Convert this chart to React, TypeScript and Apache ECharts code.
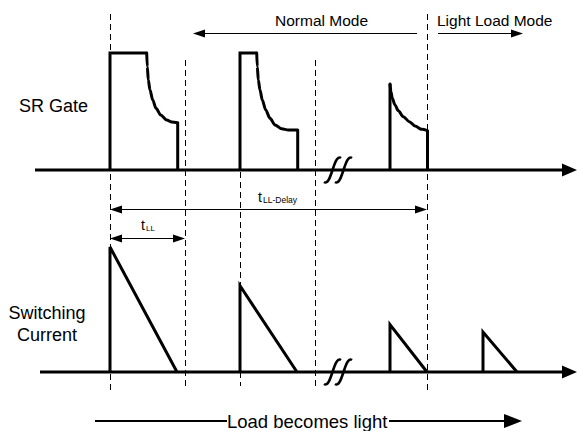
import React, { useEffect, useRef } from "react";
import * as echarts from "echarts";

// ---------- time axis (arbitrary units along the diagram) ----------
const TIME_MIN = 0;
const TIME_MAX = 577;

// ---------- SR Gate waveform (time, normalised amplitude) ----------
const gateRise = [110, 240, 390];
const gateTop = [1, 1, 0.735];
const gateFlatEnd = [146.7, 256.7, 390];
const gateFall = [177.7, 297.7, 427.5];
const gateCurve1 = [
  [146.7, 1], [147.3, 0.883], [148.3, 0.769], [150, 0.684], [152.7, 0.598],
  [156, 0.527], [160.7, 0.47], [166.7, 0.427], [171.7, 0.41], [177.7, 0.404],
];
const gateCurve2 = [
  [256.7, 1], [257.3, 0.883], [258.3, 0.769], [260, 0.684], [262.3, 0.598],
  [265.7, 0.513], [270, 0.442], [275, 0.385], [281.7, 0.353], [288.3, 0.342], [297.7, 0.342],
];
const gateCurve3 = [
  [390, 0.735], [391, 0.669], [392.3, 0.613], [395, 0.556], [398.3, 0.507],
  [403.3, 0.456], [409.3, 0.413], [415, 0.376], [421.7, 0.348], [427.5, 0.336],
];
const gateCurves = [gateCurve1, gateCurve2, gateCurve3];

// ---------- Switching current waveform ----------
const currentRise = [110, 240, 390, 483];
const currentPeak = [1, 0.69, 0.38, 0.32];
const currentEnd = [177, 297, 427, 517];

// ---------- axes / breaks ----------
const gateAxis = [35, 577]; // start, arrow tip
const currentAxis = [40, 577];
const breakTime = 338;

// ---------- annotation data (time, height in figure units) ----------
const markerTimes = [110, 185, 240, 315, 427];
const markerTop = [14, 60, 172, 60, 14];
const markerBottom = [391, 389, 386, 389, 390];

const labelTexts = ["Normal Mode", "Light Load Mode", "SR Gate", "Switching", "Current", "Load becomes light"];

const FONT = "'Liberation Sans', Arial, sans-serif";

type SegSpec = {
  width: number;
  dash?: number[];
  heads: [boolean, boolean];
  headLen: number;
  headW: number;
};

type Seg = { p: number[]; spec: SegSpec };

const thinArrow = (h: [boolean, boolean]): SegSpec => ({ width: 1, heads: h, headLen: 12, headW: 8 });
const axisArrow: SegSpec = { width: 3, heads: [false, true], headLen: 15, headW: 13 };
const dashSpec: SegSpec = { width: 1, dash: [6, 4], heads: [false, false], headLen: 0, headW: 0 };

const crisp = (v: number) => Math.round(v - 0.5) + 0.5;

function segRenderer(segs: Seg[]) {
  return (params: any, api: any) => {
    const s = segs[params.dataIndex].spec;
    const a = api.coord([api.value(0), api.value(1)]);
    const b = api.coord([api.value(2), api.value(3)]);
    if (s.width === 1) {
      if (Math.abs(a[0] - b[0]) < 0.01) { a[0] = crisp(a[0]); b[0] = a[0]; }
      if (Math.abs(a[1] - b[1]) < 0.01) { a[1] = crisp(a[1]); b[1] = a[1]; }
    }
    const dx = b[0] - a[0];
    const dy = b[1] - a[1];
    const L = Math.hypot(dx, dy) || 1;
    const ux = dx / L;
    const uy = dy / L;
    const nx = -uy;
    const ny = ux;
    const children: any[] = [];
    let p1 = [a[0], a[1]];
    let p2 = [b[0], b[1]];
    const head = (tip: number[], dirx: number, diry: number) => {
      const bx = tip[0] - dirx * s.headLen;
      const by = tip[1] - diry * s.headLen;
      return {
        type: "polygon",
        shape: {
          points: [
            [tip[0], tip[1]],
            [bx + (nx * s.headW) / 2, by + (ny * s.headW) / 2],
            [bx - (nx * s.headW) / 2, by - (ny * s.headW) / 2],
          ],
        },
        style: { fill: "#000", stroke: "none" },
      };
    };
    if (s.heads[0]) {
      p1 = [a[0] + ux * (s.headLen - 1), a[1] + uy * (s.headLen - 1)];
      children.push(head(a, -ux, -uy));
    }
    if (s.heads[1]) {
      p2 = [b[0] - ux * (s.headLen - 1), b[1] - uy * (s.headLen - 1)];
      children.push(head(b, ux, uy));
    }
    children.unshift({
      type: "line",
      shape: { x1: p1[0], y1: p1[1], x2: p2[0], y2: p2[1] },
      style: { stroke: "#000", lineWidth: s.width, lineDash: s.dash || null, fill: "none" },
    });
    return { type: "group", children };
  };
}

function breakRenderer(params: any, api: any) {
  const c = api.coord([api.value(0), api.value(1)]);
  const mk = (ox: number) => ({
    type: "bezierCurve",
    shape: {
      x1: c[0] + ox - 8.5, y1: c[1] + 12,
      cpx1: c[0] + ox - 1, cpy1: c[1] + 17,
      cpx2: c[0] + ox + 1, cpy2: c[1] - 17,
      x2: c[0] + ox + 8.5, y2: c[1] - 12,
    },
    style: { stroke: "#000", lineWidth: 2.6, fill: "none" },
  });
  return { type: "group", children: [mk(-5.5), mk(5.5)] };
}

export default function App() {
  const ref = useRef<HTMLDivElement>(null);

  useEffect(() => {
    if (!ref.current) return;
    const chart = echarts.init(ref.current, null, { renderer: "svg" });

    const lineBase = {
      type: "line",
      showSymbol: false,
      symbol: "none",
      clip: false,
      silent: true,
      lineStyle: { color: "#000", width: 3, join: "miter", cap: "butt" },
      itemStyle: { color: "#000" },
      emphasis: { disabled: true },
    };

    const series: any[] = [];

    // SR gate pulses
    gateRise.forEach((t, i) => {
      const outline: number[][] = [[t, 0], [t, gateTop[i]]];
      if (gateFlatEnd[i] > t) outline.push([gateFlatEnd[i], gateTop[i]]);
      series.push({
        ...lineBase,
        xAxisIndex: 0,
        yAxisIndex: 0,
        data: outline,
      });
      series.push({
        ...lineBase,
        xAxisIndex: 0,
        yAxisIndex: 0,
        smooth: 0.3,
        smoothMonotone: "x",
        lineStyle: { ...lineBase.lineStyle, cap: "round", join: "round" },
        data: gateCurves[i],
      });
      const curve = gateCurves[i];
      series.push({
        ...lineBase,
        xAxisIndex: 0,
        yAxisIndex: 0,
        data: [[gateFall[i], curve[curve.length - 1][1]], [gateFall[i], 0]],
      });
    });

    // Switching current triangles
    currentRise.forEach((t, i) => {
      series.push({
        ...lineBase,
        xAxisIndex: 1,
        yAxisIndex: 1,
        data: [[t, 0], [t, currentPeak[i]], [currentEnd[i], 0]],
      });
    });

    // baselines with arrowheads
    const gateAxisSegs: Seg[] = [{ p: [gateAxis[0], 0, gateAxis[1], 0], spec: axisArrow }];
    const currentAxisSegs: Seg[] = [{ p: [currentAxis[0], 0, currentAxis[1], 0], spec: axisArrow }];
    series.push({
      type: "custom", coordinateSystem: "cartesian2d", xAxisIndex: 0, yAxisIndex: 0, clip: false, silent: true,
      data: gateAxisSegs.map((s) => s.p), renderItem: segRenderer(gateAxisSegs),
    });
    series.push({
      type: "custom", coordinateSystem: "cartesian2d", xAxisIndex: 1, yAxisIndex: 1, clip: false, silent: true,
      data: currentAxisSegs.map((s) => s.p), renderItem: segRenderer(currentAxisSegs),
    });
    // break marks on both baselines
    series.push({
      type: "custom", coordinateSystem: "cartesian2d", xAxisIndex: 0, yAxisIndex: 0, clip: false, silent: true,
      data: [[breakTime, 0]], renderItem: breakRenderer,
    });
    series.push({
      type: "custom", coordinateSystem: "cartesian2d", xAxisIndex: 1, yAxisIndex: 1, clip: false, silent: true,
      data: [[breakTime, 0]], renderItem: breakRenderer,
    });

    // annotations on overlay grid
    const annot: Seg[] = [];
    markerTimes.forEach((t, i) => annot.push({ p: [t, markerTop[i], t, markerBottom[i]], spec: dashSpec }));
    annot.push({ p: [110, 209, 427, 209], spec: thinArrow([true, true]) });
    annot.push({ p: [110, 238.5, 185, 238.5], spec: thinArrow([true, true]) });
    annot.push({ p: [417, 33, 193, 33], spec: thinArrow([false, true]) });
    annot.push({ p: [438, 33, 523, 33], spec: thinArrow([false, true]) });
    annot.push({ p: [95, 421, 227, 421], spec: { width: 2, heads: [false, false], headLen: 0, headW: 0 } });
    annot.push({ p: [389, 421, 522, 421], spec: { width: 2, heads: [false, true], headLen: 18, headW: 14 } });
    series.push({
      type: "custom", coordinateSystem: "cartesian2d", xAxisIndex: 2, yAxisIndex: 2, clip: false, silent: true,
      data: annot.map((s) => s.p), renderItem: segRenderer(annot),
    });

    const txt = (text: string, x: number, y: number, size: number, align = "left") => ({
      type: "text",
      x,
      y,
      silent: true,
      style: { text, fontSize: size, fontFamily: FONT, fill: "#000", align, verticalAlign: "middle" },
    });

    const option: any = {
      animation: false,
      backgroundColor: "#fff",
      grid: [
        { left: 0, top: 53, width: 577, height: 117, containLabel: false },
        { left: 0, top: 247, width: 577, height: 125, containLabel: false },
        { left: 0, top: 0, width: 577, height: 431, containLabel: false },
      ],
      xAxis: [0, 1, 2].map((g) => ({ type: "value", gridIndex: g, min: TIME_MIN, max: TIME_MAX, show: false })),
      yAxis: [
        { type: "value", gridIndex: 0, min: 0, max: 1, show: false },
        { type: "value", gridIndex: 1, min: 0, max: 1, show: false },
        { type: "value", gridIndex: 2, min: 0, max: 431, inverse: true, show: false },
      ],
      series,
      graphic: {
        elements: [
          txt(labelTexts[0], 275, 20, 15.5),
          txt(labelTexts[1], 437, 20, 15.5),
          txt(labelTexts[2], 19, 106, 18),
          txt(labelTexts[3], 47, 313, 18, "center"),
          txt(labelTexts[4], 47, 335, 18, "center"),
          txt(labelTexts[5], 227, 421, 18.5),
          txt("t", 141, 225, 14),
          txt("LL", 146, 228.5, 8),
          txt("t", 258, 196.5, 14),
          txt("LL-Delay", 263, 200, 8.5),
        ],
      },
    };

    chart.setOption(option);
    return () => chart.dispose();
  }, []);

  return (
    <div
      ref={ref}
      style={{ position: "absolute", left: 0, top: 0, width: 577, height: 431, background: "#fff" }}
    />
  );
}
